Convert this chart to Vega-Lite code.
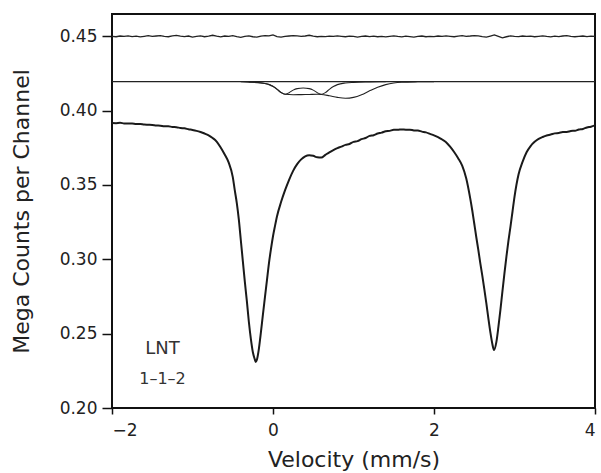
{
  "$schema": "https://vega.github.io/schema/vega-lite/v6.json",
  "width": 483,
  "height": 394,
  "autosize": {"type": "none"},
  "padding": {"left": 112, "top": 14, "right": 6, "bottom": 65},
  "background": "white",
  "config": {
    "view": {"stroke": "#111", "strokeWidth": 2},
    "font": "DejaVu Sans",
    "axis": {"labelFont": "DejaVu Sans", "titleFont": "DejaVu Sans", "labelColor": "#222", "titleColor": "#222", "grid": false, "domain": false, "tickColor": "#111", "tickWidth": 1.5, "titleFontWeight": "normal"}
  },
  "datasets": {
    "main": [
      {"v": -2.00, "y": 0.3917}, {"v": -1.95, "y": 0.3916}, {"v": -1.90, "y": 0.3918}, {"v": -1.85, "y": 0.3914}, {"v": -1.80, "y": 0.3913},
      {"v": -1.75, "y": 0.3913}, {"v": -1.70, "y": 0.3910}, {"v": -1.65, "y": 0.3910}, {"v": -1.60, "y": 0.3906}, {"v": -1.55, "y": 0.3905},
      {"v": -1.50, "y": 0.3904}, {"v": -1.45, "y": 0.3900}, {"v": -1.40, "y": 0.3899}, {"v": -1.35, "y": 0.3895}, {"v": -1.30, "y": 0.3895},
      {"v": -1.25, "y": 0.3890}, {"v": -1.20, "y": 0.3889}, {"v": -1.15, "y": 0.3883}, {"v": -1.10, "y": 0.3881}, {"v": -1.05, "y": 0.3875},
      {"v": -1.00, "y": 0.3870}, {"v": -0.95, "y": 0.3864}, {"v": -0.90, "y": 0.3856}, {"v": -0.85, "y": 0.3846}, {"v": -0.80, "y": 0.3834},
      {"v": -0.75, "y": 0.3816}, {"v": -0.70, "y": 0.3792}, {"v": -0.65, "y": 0.3752}, {"v": -0.60, "y": 0.3705}, {"v": -0.55, "y": 0.3650},
      {"v": -0.50, "y": 0.3555}, {"v": -0.475, "y": 0.3465}, {"v": -0.45, "y": 0.3380}, {"v": -0.425, "y": 0.3270}, {"v": -0.40, "y": 0.3130},
      {"v": -0.375, "y": 0.2990}, {"v": -0.35, "y": 0.2850}, {"v": -0.325, "y": 0.2720}, {"v": -0.30, "y": 0.2580}, {"v": -0.275, "y": 0.2465},
      {"v": -0.25, "y": 0.2375}, {"v": -0.225, "y": 0.2325}, {"v": -0.215, "y": 0.2310}, {"v": -0.20, "y": 0.2325}, {"v": -0.175, "y": 0.2400},
      {"v": -0.15, "y": 0.2510}, {"v": -0.125, "y": 0.2630}, {"v": -0.10, "y": 0.2745}, {"v": -0.075, "y": 0.2860}, {"v": -0.05, "y": 0.2975},
      {"v": -0.025, "y": 0.3070}, {"v": 0.00, "y": 0.3155}, {"v": 0.025, "y": 0.3225}, {"v": 0.05, "y": 0.3290}, {"v": 0.10, "y": 0.3385},
      {"v": 0.15, "y": 0.3465}, {"v": 0.20, "y": 0.3535}, {"v": 0.25, "y": 0.3595}, {"v": 0.30, "y": 0.3640}, {"v": 0.35, "y": 0.3672},
      {"v": 0.40, "y": 0.3693}, {"v": 0.45, "y": 0.3700}, {"v": 0.50, "y": 0.3696}, {"v": 0.55, "y": 0.3686}, {"v": 0.60, "y": 0.3684},
      {"v": 0.65, "y": 0.3702}, {"v": 0.70, "y": 0.3720}, {"v": 0.75, "y": 0.3735}, {"v": 0.80, "y": 0.3748}, {"v": 0.85, "y": 0.3758},
      {"v": 0.90, "y": 0.3770}, {"v": 0.95, "y": 0.3776}, {"v": 1.00, "y": 0.3790}, {"v": 1.05, "y": 0.3795}, {"v": 1.10, "y": 0.3808},
      {"v": 1.15, "y": 0.3816}, {"v": 1.20, "y": 0.3830}, {"v": 1.25, "y": 0.3835}, {"v": 1.30, "y": 0.3846}, {"v": 1.35, "y": 0.3852},
      {"v": 1.40, "y": 0.3861}, {"v": 1.45, "y": 0.3864}, {"v": 1.50, "y": 0.3871}, {"v": 1.55, "y": 0.3871}, {"v": 1.60, "y": 0.3874},
      {"v": 1.65, "y": 0.3872}, {"v": 1.70, "y": 0.3872}, {"v": 1.75, "y": 0.3867}, {"v": 1.80, "y": 0.3866}, {"v": 1.85, "y": 0.3859},
      {"v": 1.90, "y": 0.3854}, {"v": 1.95, "y": 0.3844}, {"v": 2.00, "y": 0.3834}, {"v": 2.05, "y": 0.3822}, {"v": 2.10, "y": 0.3806},
      {"v": 2.15, "y": 0.3788}, {"v": 2.20, "y": 0.3758}, {"v": 2.25, "y": 0.3722}, {"v": 2.30, "y": 0.3680}, {"v": 2.35, "y": 0.3630},
      {"v": 2.40, "y": 0.3545}, {"v": 2.45, "y": 0.3410}, {"v": 2.475, "y": 0.3330}, {"v": 2.50, "y": 0.3241}, {"v": 2.525, "y": 0.3150},
      {"v": 2.55, "y": 0.3065}, {"v": 2.575, "y": 0.2975}, {"v": 2.60, "y": 0.2890}, {"v": 2.625, "y": 0.2800}, {"v": 2.65, "y": 0.2705},
      {"v": 2.675, "y": 0.2605}, {"v": 2.70, "y": 0.2510}, {"v": 2.725, "y": 0.2430}, {"v": 2.745, "y": 0.2390}, {"v": 2.775, "y": 0.2445},
      {"v": 2.80, "y": 0.2545}, {"v": 2.825, "y": 0.2660}, {"v": 2.85, "y": 0.2785}, {"v": 2.875, "y": 0.2905}, {"v": 2.90, "y": 0.3020},
      {"v": 2.925, "y": 0.3125}, {"v": 2.95, "y": 0.3220}, {"v": 2.975, "y": 0.3320}, {"v": 3.00, "y": 0.3420}, {"v": 3.05, "y": 0.3570},
      {"v": 3.10, "y": 0.3655}, {"v": 3.15, "y": 0.3720}, {"v": 3.20, "y": 0.3762}, {"v": 3.25, "y": 0.3790}, {"v": 3.30, "y": 0.3810},
      {"v": 3.35, "y": 0.3823}, {"v": 3.40, "y": 0.3833}, {"v": 3.45, "y": 0.3839}, {"v": 3.50, "y": 0.3847}, {"v": 3.55, "y": 0.3850},
      {"v": 3.60, "y": 0.3856}, {"v": 3.65, "y": 0.3857}, {"v": 3.70, "y": 0.3863}, {"v": 3.75, "y": 0.3865}, {"v": 3.80, "y": 0.3873},
      {"v": 3.85, "y": 0.3877}, {"v": 3.90, "y": 0.3887}, {"v": 3.95, "y": 0.3892}, {"v": 4.00, "y": 0.3901}
    ],
    "resid": [
      {"v": -2.00, "y": 0.4500}, {"v": -1.95, "y": 0.4497}, {"v": -1.90, "y": 0.4502}, {"v": -1.85, "y": 0.4499}, {"v": -1.80, "y": 0.4503},
      {"v": -1.75, "y": 0.4498}, {"v": -1.70, "y": 0.4501}, {"v": -1.65, "y": 0.4496}, {"v": -1.60, "y": 0.4500}, {"v": -1.55, "y": 0.4504},
      {"v": -1.50, "y": 0.4499}, {"v": -1.45, "y": 0.4502}, {"v": -1.40, "y": 0.4505}, {"v": -1.35, "y": 0.4500}, {"v": -1.30, "y": 0.4497},
      {"v": -1.25, "y": 0.4503}, {"v": -1.20, "y": 0.4506}, {"v": -1.15, "y": 0.4501}, {"v": -1.10, "y": 0.4498}, {"v": -1.05, "y": 0.4502},
      {"v": -1.00, "y": 0.4495}, {"v": -0.95, "y": 0.4499}, {"v": -0.90, "y": 0.4503}, {"v": -0.85, "y": 0.4497}, {"v": -0.80, "y": 0.4501},
      {"v": -0.75, "y": 0.4507}, {"v": -0.70, "y": 0.4501}, {"v": -0.65, "y": 0.4496}, {"v": -0.60, "y": 0.4502}, {"v": -0.55, "y": 0.4499},
      {"v": -0.50, "y": 0.4504}, {"v": -0.45, "y": 0.4498}, {"v": -0.40, "y": 0.4493}, {"v": -0.35, "y": 0.4500}, {"v": -0.30, "y": 0.4503},
      {"v": -0.25, "y": 0.4497}, {"v": -0.20, "y": 0.4494}, {"v": -0.15, "y": 0.4501}, {"v": -0.10, "y": 0.4505}, {"v": -0.05, "y": 0.4503},
      {"v": 0.00, "y": 0.4509}, {"v": 0.05, "y": 0.4498}, {"v": 0.10, "y": 0.4494}, {"v": 0.15, "y": 0.4499}, {"v": 0.20, "y": 0.4502},
      {"v": 0.25, "y": 0.4505}, {"v": 0.30, "y": 0.4503}, {"v": 0.35, "y": 0.4499}, {"v": 0.40, "y": 0.4502}, {"v": 0.45, "y": 0.4507},
      {"v": 0.50, "y": 0.4501}, {"v": 0.55, "y": 0.4497}, {"v": 0.60, "y": 0.4500}, {"v": 0.65, "y": 0.4498}, {"v": 0.70, "y": 0.4501},
      {"v": 0.75, "y": 0.4499}, {"v": 0.80, "y": 0.4503}, {"v": 0.85, "y": 0.4500}, {"v": 0.90, "y": 0.4497}, {"v": 0.95, "y": 0.4501},
      {"v": 1.00, "y": 0.4499}, {"v": 1.05, "y": 0.4495}, {"v": 1.10, "y": 0.4500}, {"v": 1.15, "y": 0.4502}, {"v": 1.20, "y": 0.4498},
      {"v": 1.25, "y": 0.4501}, {"v": 1.30, "y": 0.4497}, {"v": 1.35, "y": 0.4499}, {"v": 1.40, "y": 0.4496}, {"v": 1.45, "y": 0.4500},
      {"v": 1.50, "y": 0.4503}, {"v": 1.55, "y": 0.4499}, {"v": 1.60, "y": 0.4496}, {"v": 1.65, "y": 0.4501}, {"v": 1.70, "y": 0.4498},
      {"v": 1.75, "y": 0.4495}, {"v": 1.80, "y": 0.4499}, {"v": 1.85, "y": 0.4502}, {"v": 1.90, "y": 0.4497}, {"v": 1.95, "y": 0.4500},
      {"v": 2.00, "y": 0.4498}, {"v": 2.05, "y": 0.4502}, {"v": 2.10, "y": 0.4499}, {"v": 2.15, "y": 0.4503}, {"v": 2.20, "y": 0.4500},
      {"v": 2.25, "y": 0.4497}, {"v": 2.30, "y": 0.4501}, {"v": 2.35, "y": 0.4504}, {"v": 2.40, "y": 0.4500}, {"v": 2.45, "y": 0.4502},
      {"v": 2.50, "y": 0.4505}, {"v": 2.55, "y": 0.4503}, {"v": 2.60, "y": 0.4498}, {"v": 2.65, "y": 0.4494}, {"v": 2.70, "y": 0.4502},
      {"v": 2.75, "y": 0.4510}, {"v": 2.80, "y": 0.4500}, {"v": 2.85, "y": 0.4490}, {"v": 2.90, "y": 0.4497}, {"v": 2.95, "y": 0.4503},
      {"v": 3.00, "y": 0.4500}, {"v": 3.05, "y": 0.4498}, {"v": 3.10, "y": 0.4502}, {"v": 3.15, "y": 0.4499}, {"v": 3.20, "y": 0.4501},
      {"v": 3.25, "y": 0.4497}, {"v": 3.30, "y": 0.4500}, {"v": 3.35, "y": 0.4503}, {"v": 3.40, "y": 0.4499}, {"v": 3.45, "y": 0.4496},
      {"v": 3.50, "y": 0.4501}, {"v": 3.55, "y": 0.4498}, {"v": 3.60, "y": 0.4502}, {"v": 3.65, "y": 0.4505}, {"v": 3.70, "y": 0.4499},
      {"v": 3.75, "y": 0.4497}, {"v": 3.80, "y": 0.4500}, {"v": 3.85, "y": 0.4502}, {"v": 3.90, "y": 0.4498}, {"v": 3.95, "y": 0.4501},
      {"v": 4.00, "y": 0.4499}
    ],
    "base": [{"v": -2.0, "y": 0.4195}, {"v": 4.0, "y": 0.4195}],
    "compA": [
      {"v": -0.30, "y": 0.4193}, {"v": -0.20, "y": 0.4190}, {"v": -0.10, "y": 0.4183}, {"v": -0.05, "y": 0.4175}, {"v": 0.00, "y": 0.4162},
      {"v": 0.05, "y": 0.4143}, {"v": 0.10, "y": 0.4121}, {"v": 0.15, "y": 0.4110}, {"v": 0.20, "y": 0.4121}, {"v": 0.25, "y": 0.4138},
      {"v": 0.30, "y": 0.4148}, {"v": 0.375, "y": 0.4152}, {"v": 0.45, "y": 0.4148}, {"v": 0.50, "y": 0.4138}, {"v": 0.55, "y": 0.4121},
      {"v": 0.60, "y": 0.4110}, {"v": 0.65, "y": 0.4121}, {"v": 0.70, "y": 0.4143}, {"v": 0.75, "y": 0.4162}, {"v": 0.80, "y": 0.4175},
      {"v": 0.90, "y": 0.4186}, {"v": 1.00, "y": 0.4190}, {"v": 1.20, "y": 0.4193}, {"v": 1.40, "y": 0.4195}
    ],
    "compB": [
      {"v": -0.40, "y": 0.4195}, {"v": -0.30, "y": 0.4192}, {"v": -0.10, "y": 0.4183}, {"v": 0.00, "y": 0.4165}, {"v": 0.05, "y": 0.4145},
      {"v": 0.10, "y": 0.4123}, {"v": 0.15, "y": 0.4110}, {"v": 0.25, "y": 0.4107}, {"v": 0.35, "y": 0.4108}, {"v": 0.45, "y": 0.4109},
      {"v": 0.55, "y": 0.4110}, {"v": 0.60, "y": 0.4109}, {"v": 0.70, "y": 0.4100}, {"v": 0.80, "y": 0.4089}, {"v": 0.90, "y": 0.4083},
      {"v": 1.00, "y": 0.4089}, {"v": 1.10, "y": 0.4107}, {"v": 1.20, "y": 0.4133}, {"v": 1.30, "y": 0.4157}, {"v": 1.40, "y": 0.4175},
      {"v": 1.50, "y": 0.4186}, {"v": 1.60, "y": 0.4191}, {"v": 1.80, "y": 0.4194}, {"v": 2.00, "y": 0.4195}
    ],
    "labels": [
      {"v": -1.373, "y": 0.2397, "t": "LNT", "s": 18},
      {"v": -1.373, "y": 0.2195, "t": "1–1–2", "s": 16}
    ]
  },
  "encoding": {
    "x": {
      "field": "v", "type": "quantitative",
      "scale": {"domain": [-2, 4], "nice": false, "zero": false},
      "axis": {"values": [-2, 0, 2, 4], "title": "Velocity (mm/s)", "labelFontSize": 17, "titleFontSize": 22, "tickSize": 6, "labelPadding": 8, "titlePadding": 11}
    },
    "y": {
      "field": "y", "type": "quantitative",
      "scale": {"domain": [0.2, 0.465], "nice": false, "zero": false},
      "axis": {"values": [0.2, 0.25, 0.3, 0.35, 0.4, 0.45], "format": ".2f", "title": "Mega Counts per Channel", "labelFontSize": 17, "titleFontSize": 22, "tickSize": 10, "labelPadding": 5, "titlePadding": 26}
    }
  },
  "layer": [
    {"data": {"name": "resid"}, "mark": {"type": "line", "color": "#222", "strokeWidth": 1.3}},
    {"data": {"name": "base"}, "mark": {"type": "line", "color": "#222", "strokeWidth": 1.2}},
    {"data": {"name": "compA"}, "mark": {"type": "line", "color": "#222", "strokeWidth": 1.1, "interpolate": "monotone"}},
    {"data": {"name": "compB"}, "mark": {"type": "line", "color": "#222", "strokeWidth": 1.1, "interpolate": "monotone"}},
    {"data": {"name": "main"}, "mark": {"type": "line", "color": "#1a1a1a", "strokeWidth": 2, "interpolate": "monotone"}},
    {"data": {"name": "labels"}, "mark": {"type": "text", "color": "#333", "font": "DejaVu Sans"}, "encoding": {"text": {"field": "t"}, "size": {"field": "s", "type": "quantitative", "scale": null}}}
  ]
}
